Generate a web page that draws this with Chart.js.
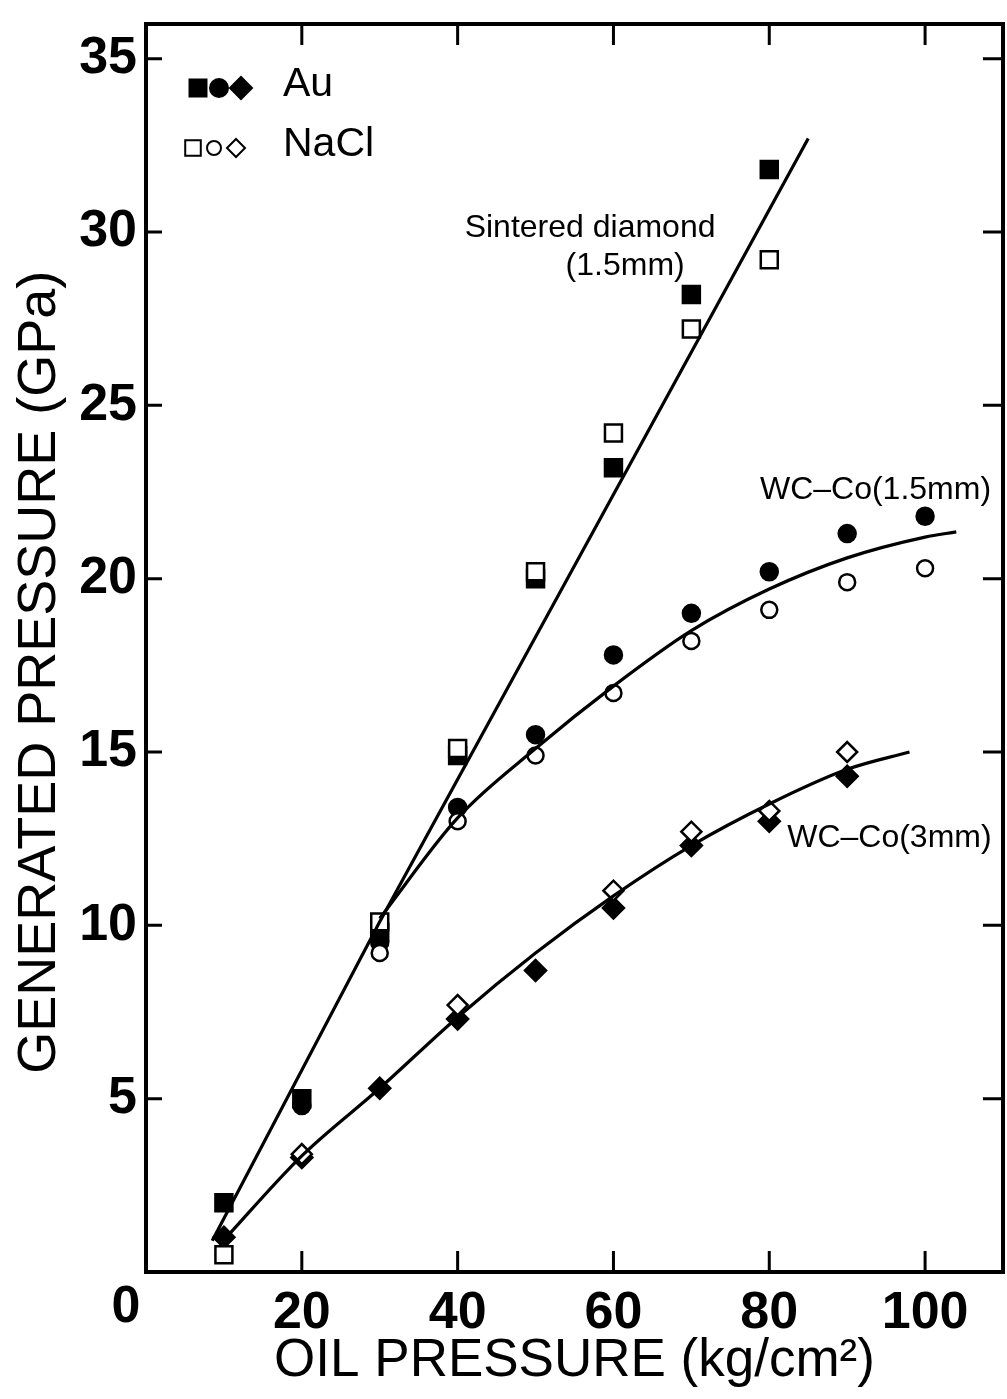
<!DOCTYPE html>
<html>
<head>
<meta charset="utf-8">
<style>
  html, body { margin: 0; padding: 0; background: #fff; }
  #chart { display: block; }
</style>
</head>
<body>
<canvas id="chart" width="1007" height="1399"></canvas>
<script src="https://cdn.jsdelivr.net/npm/chart.js"></script>
<script>
const oilPressure = [10, 20, 30, 40, 50, 60, 70, 80, 90, 100];

// sintered diamond anvils (1.5 mm)
const diamondAu   = [2.0, 5.0, 9.8, 14.9, 20.0, 23.2, 28.2, 31.8, null, null];
const diamondNaCl = [0.5, null, 10.1, 15.1, 20.2, 24.2, 27.2, 29.2, null, null];
// WC-Co anvils (1.5 mm)
const wc15Au   = [null, 4.8, 9.5, 13.4, 15.5, 17.8, 19.0, 20.2, 21.3, 21.8];
const wc15NaCl = [0.5, null, 9.2, 13.0, 14.9, 16.7, 18.2, 19.1, 19.9, 20.3];
// WC-Co anvils (3 mm)
const wc3Au   = [1.0, 3.3, 5.3, 7.3, 8.7, 10.5, 12.3, 13.0, 14.3, null];
const wc3NaCl = [null, 3.4, null, 7.7, null, 11.0, 12.7, 13.3, 15.0, null];

// trend curves
const diamondCurveX = [8.5, 30, 85];
const diamondCurveY = [0.9, 10.1, 32.7];
const wc15CurveX = [30, 40, 50, 60, 70, 80, 90, 100, 104];
const wc15CurveY = [10.2, 13.1, 15.1, 16.9, 18.5, 19.7, 20.6, 21.2, 21.35];
const wc3CurveX = [9.5, 20, 30, 40, 50, 60, 70, 80, 90, 98];
const wc3CurveY = [0.8, 3.35, 5.3, 7.35, 9.2, 10.85, 12.3, 13.5, 14.5, 15.0];

const xTicks = [20, 40, 60, 80, 100];
const yTicks = [5, 10, 15, 20, 25, 30, 35];

const FONT = '"Liberation Sans", Arial, Helvetica, sans-serif';

const pts = (xs, ys) => xs.map((x, i) => ({ x: x, y: ys[i] })).filter(p => p.y !== null);

function markers(xs, ys, style, filled, radius) {
  return {
    type: 'scatter',
    data: pts(xs, ys),
    pointStyle: style,
    pointRadius: radius,
    pointBackgroundColor: filled ? '#000' : '#fff',
    pointBorderColor: '#000',
    pointBorderWidth: 2.5,
    showLine: false
  };
}

function curve(xs, ys, tension) {
  return {
    type: 'line',
    data: pts(xs, ys),
    borderColor: '#000',
    borderWidth: 3.2,
    pointRadius: 0,
    fill: false,
    tension: tension,
    cubicInterpolationMode: tension ? 'monotone' : 'default'
  };
}

// no extra room around the axes, the layout padding sets the frame
function noPad(s) {
  s.paddingTop = 0; s.paddingBottom = 0; s.paddingLeft = 0; s.paddingRight = 0;
}

// frame with inward ticks, y title, legend key and curve labels
const decorations = {
  id: 'decorations',
  afterDraw(chart) {
    const { ctx, chartArea: a, scales: { x, y } } = chart;
    ctx.save();
    ctx.strokeStyle = '#000';
    ctx.lineWidth = 4;
    ctx.strokeRect(a.left, a.top, a.right - a.left, a.bottom - a.top);

    ctx.lineWidth = 3;
    ctx.beginPath();
    xTicks.forEach(v => {
      const px = x.getPixelForValue(v);
      ctx.moveTo(px, a.bottom); ctx.lineTo(px, a.bottom - 21);
      ctx.moveTo(px, a.top); ctx.lineTo(px, a.top + 21);
    });
    yTicks.forEach(v => {
      const py = y.getPixelForValue(v);
      ctx.moveTo(a.left, py); ctx.lineTo(a.left + 16, py);
      ctx.moveTo(a.right, py); ctx.lineTo(a.right - 20, py);
    });
    ctx.stroke();

    ctx.fillStyle = '#000';
    // shared origin label
    ctx.font = 'bold 52px ' + FONT;
    ctx.textAlign = 'center';
    ctx.textBaseline = 'top';
    ctx.fillText('0', a.left - 20, a.bottom + 10);

    // y axis title, sitting a little below the frame's middle
    ctx.save();
    ctx.translate(40, y.getPixelForValue(17.3));
    ctx.rotate(-Math.PI / 2);
    ctx.font = '54px ' + FONT;
    ctx.textBaseline = 'middle';
    ctx.fillText('GENERATED PRESSURE (GPa)', 0, 0);
    ctx.restore();

    // legend key
    const key = [
      { label: 'Au', filled: true, yy: 88, xs: [198, 219, 241], r: [12, 9, 11] },
      { label: 'NaCl', filled: false, yy: 148, xs: [193, 214, 236], r: [11, 7, 9] }
    ];
    const styles = ['rect', 'circle', 'rectRot'];
    key.forEach(k => {
      k.xs.forEach((kx, i) => {
        ctx.beginPath();
        ctx.lineWidth = 2;
        ctx.fillStyle = k.filled ? '#000' : '#fff';
        ctx.strokeStyle = '#000';
        Chart.helpers.drawPoint(ctx, { pointStyle: styles[i], radius: k.r[i], borderWidth: 2, rotation: 0 }, kx, k.yy);
      });
      ctx.fillStyle = '#000';
      ctx.font = '41px ' + FONT;
      ctx.textAlign = 'left';
      ctx.textBaseline = 'middle';
      ctx.fillText(k.label, 283, k.yy - 3);
    });

    // curve labels, placed in data coordinates
    ctx.font = '32px ' + FONT;
    ctx.textBaseline = 'middle';
    ctx.textAlign = 'center';
    ctx.fillText('Sintered diamond', x.getPixelForValue(57), y.getPixelForValue(30.1));
    ctx.fillText('(1.5mm)', x.getPixelForValue(61.5), y.getPixelForValue(29.0));
    ctx.textAlign = 'left';
    ctx.fillText('WC\u2013Co(1.5mm)', x.getPixelForValue(78.8), y.getPixelForValue(22.55));
    ctx.fillText('WC\u2013Co(3mm)', x.getPixelForValue(82.3), y.getPixelForValue(12.5));
    ctx.restore();
  }
};

new Chart(document.getElementById('chart').getContext('2d'), {
  data: {
    datasets: [
      curve(diamondCurveX, diamondCurveY, 0),
      curve(wc15CurveX, wc15CurveY, 0.4),
      curve(wc3CurveX, wc3CurveY, 0.4),
      markers(oilPressure, diamondNaCl, 'rect', false, 12),
      markers(oilPressure, wc15NaCl, 'circle', false, 8),
      markers(oilPressure, wc3NaCl, 'rectRot', false, 10),
      markers(oilPressure, diamondAu, 'rect', true, 12),
      markers(oilPressure, wc15Au, 'circle', true, 8.5),
      markers(oilPressure, wc3Au, 'rectRot', true, 10.5)
    ]
  },
  options: {
    responsive: false,
    animation: false,
    layout: { autoPadding: false, padding: { top: 24, right: 4, left: 0, bottom: 0 } },
    plugins: { legend: { display: false }, tooltip: { enabled: false } },
    scales: {
      x: {
        type: 'linear',
        min: 0,
        max: 110,
        afterBuildTicks: s => { s.ticks = xTicks.map(v => ({ value: v })); },
        afterFit: s => { s.height = 127; noPad(s); },
        grid: { display: false, drawTicks: false },
        border: { display: false },
        ticks: { color: '#000', padding: 10, font: { family: FONT, size: 52, weight: 'bold' } },
        title: {
          display: true,
          text: 'OIL PRESSURE (kg/cm\u00b2)',
          color: '#000',
          align: 'center',
          font: { family: FONT, size: 53 },
          padding: { top: 0, bottom: 6 }
        }
      },
      y: {
        type: 'linear',
        min: 0,
        max: 36,
        afterBuildTicks: s => { s.ticks = yTicks.map(v => ({ value: v })); },
        afterFit: s => { s.width = 146; noPad(s); },
        grid: { display: false, drawTicks: false },
        border: { display: false },
        ticks: { color: '#000', padding: 9, font: { family: FONT, size: 52, weight: 'bold' } },
        title: { display: false }
      }
    }
  },
  plugins: [decorations]
});
</script>
</body>
</html>
